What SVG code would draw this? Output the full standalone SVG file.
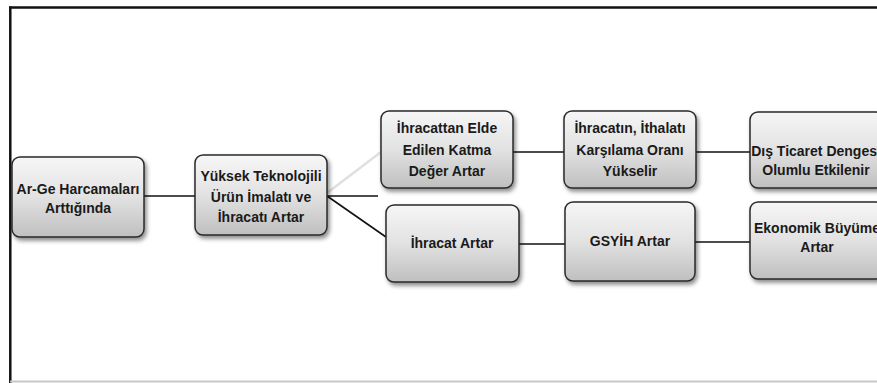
<svg xmlns="http://www.w3.org/2000/svg" width="877" height="383" viewBox="0 0 877 383">
<style>
.box{fill:url(#g);stroke:#2a2a2a;stroke-width:1.5;filter:url(#sh)}
.t{font-family:"Liberation Sans",Arial,sans-serif;font-weight:bold;font-size:14px;fill:#1a1a1a;text-anchor:middle}
.c{stroke:#111;stroke-width:1.6;fill:none}
.frame{stroke:#111;stroke-width:2.5;fill:none}
</style>
<defs>
<linearGradient id="g" x1="0" y1="0" x2="0" y2="1">
<stop offset="0" stop-color="#f6f6f6"/>
<stop offset="0.5" stop-color="#e2e2e2"/>
<stop offset="1" stop-color="#bfbfbf"/>
</linearGradient>
<filter id="sh" x="-10%" y="-10%" width="125%" height="130%">
<feDropShadow dx="2" dy="3" stdDeviation="2" flood-color="#000" flood-opacity="0.45"/>
</filter>
</defs>
<rect width="877" height="383" fill="#fff"/>
<g id="frame">
<line class="frame" x1="9" y1="7.5" x2="877" y2="7.5"/>
<line class="frame" x1="10.3" y1="6.5" x2="10.3" y2="383"/>
<line x1="10" y1="381.5" x2="877" y2="381.5" stroke="#c8c8c8" stroke-width="2"/>
</g>
<g id="connectors">
<line class="c" x1="144" y1="196" x2="195" y2="196"/>
<line class="c" x1="327" y1="196" x2="378" y2="196"/>
<line class="c" x1="327" y1="196" x2="386" y2="237"/>
<line x1="327" y1="193" x2="381" y2="152" stroke="#e0e0e0" stroke-width="2.5"/>
<line class="c" x1="513" y1="152" x2="564" y2="152"/>
<line class="c" x1="696" y1="152" x2="750" y2="152"/>
<line class="c" x1="519" y1="244" x2="565" y2="244"/>
<line class="c" x1="695" y1="242" x2="750" y2="242"/>
</g>
<g id="n1">
<rect class="box" x="12" y="157" width="132" height="80" rx="8"/>
<text class="t" x="78" y="194">Ar-Ge Harcamaları</text>
<text class="t" x="78" y="213">Arttığında</text>
</g>
<g id="n2">
<rect class="box" x="195" y="155" width="132" height="80" rx="8"/>
<text class="t" x="261" y="181">Yüksek Teknolojili</text>
<text class="t" x="261" y="202">Ürün İmalatı ve</text>
<text class="t" x="261" y="222">İhracatı Artar</text>
</g>
<g id="n3">
<rect class="box" x="381" y="111" width="132" height="77" rx="8"/>
<text class="t" x="447" y="133">İhracattan Elde</text>
<text class="t" x="447" y="155">Edilen Katma</text>
<text class="t" x="447" y="176">Değer Artar</text>
</g>
<g id="n4">
<rect class="box" x="564" y="111" width="132" height="77" rx="8"/>
<text class="t" x="630" y="133">İhracatın, İthalatı</text>
<text class="t" x="630" y="155">Karşılama Oranı</text>
<text class="t" x="630" y="176">Yükselir</text>
</g>
<g id="n5">
<rect class="box" x="750" y="112" width="134" height="76" rx="8"/>
<text class="t" x="816" y="156">Dış Ticaret Dengesi</text>
<text class="t" x="816" y="175">Olumlu Etkilenir</text>
</g>
<g id="n6">
<rect class="box" x="386" y="205" width="133" height="77" rx="8"/>
<text class="t" x="452" y="248">İhracat Artar</text>
</g>
<g id="n7">
<rect class="box" x="565" y="202" width="130" height="79" rx="8"/>
<text class="t" x="630" y="246">GSYİH Artar</text>
</g>
<g id="n8">
<rect class="box" x="750" y="202" width="134" height="77" rx="8"/>
<text class="t" x="817" y="233">Ekonomik Büyüme</text>
<text class="t" x="817" y="252">Artar</text>
</g>
</svg>
